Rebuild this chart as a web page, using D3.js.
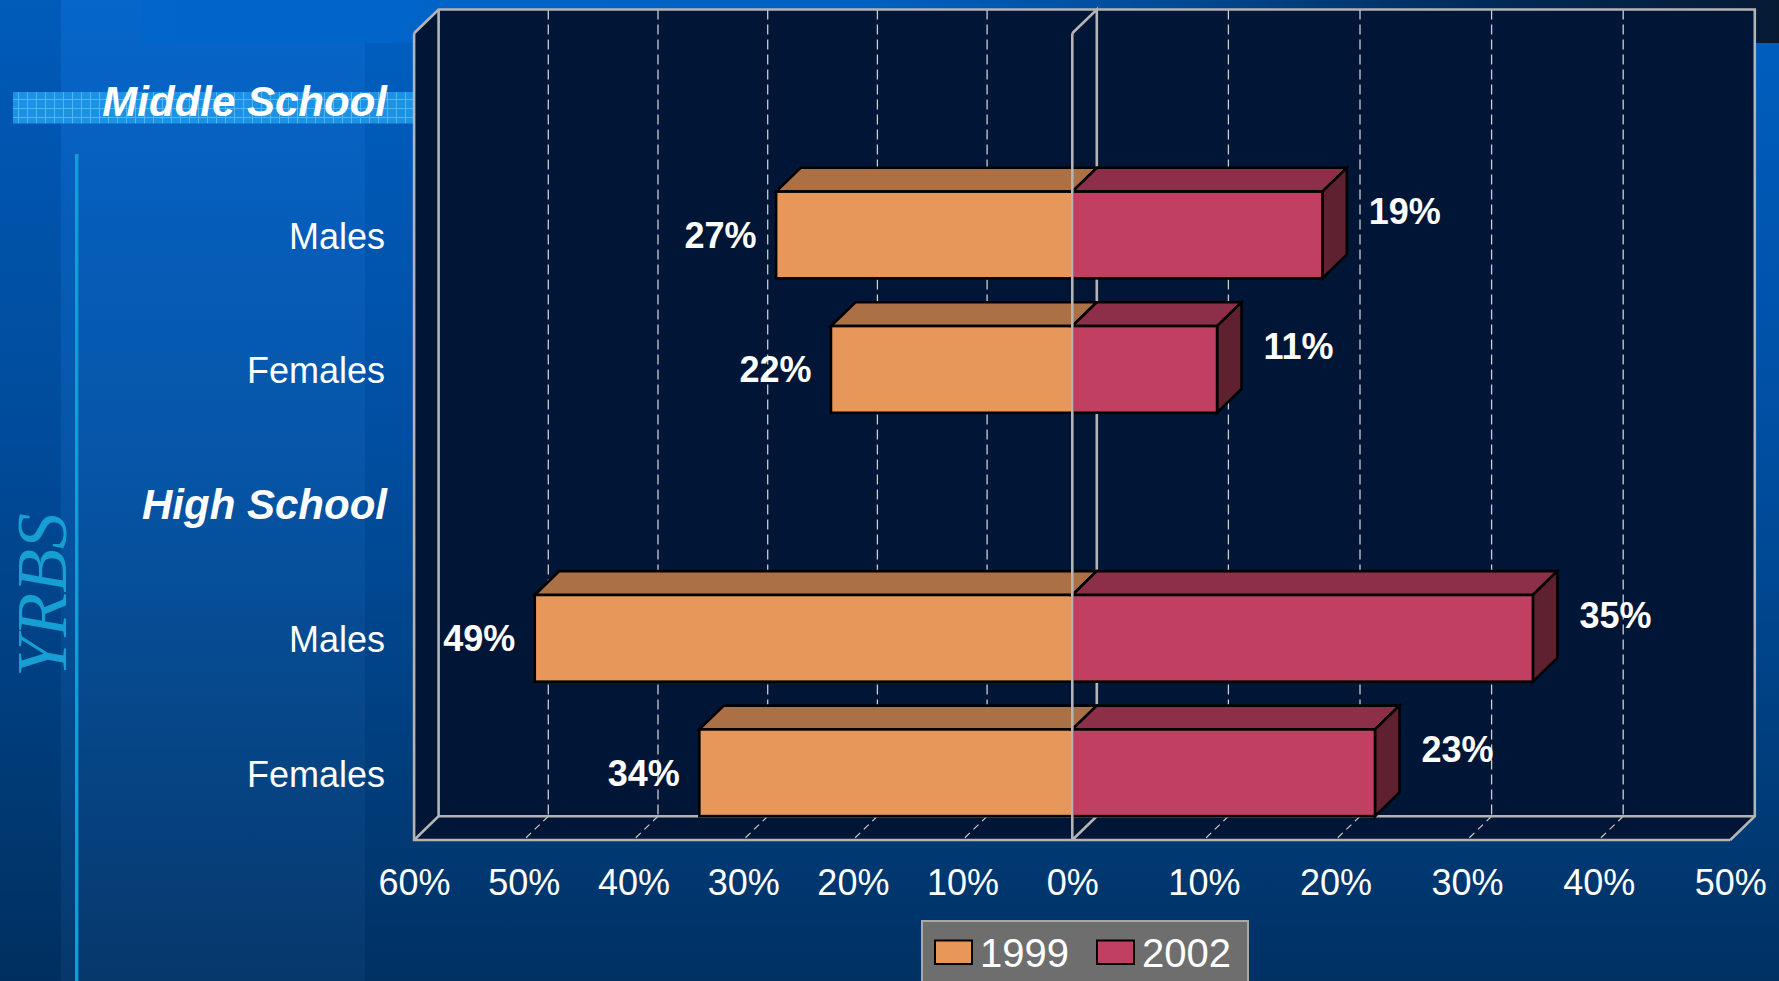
<!DOCTYPE html>
<html>
<head>
<meta charset="utf-8">
<script src="https://cdn.jsdelivr.net/npm/d3@7"></script>
<style>
  html, body { margin: 0; padding: 0; background: #003468; overflow: hidden; }
  svg { display: block; }
  text { font-family: "Liberation Sans", Arial, sans-serif; }
</style>
</head>
<body>
<svg id="chart" width="1779" height="981"></svg>
<script>
// ---------------- data ----------------
const slotKeys   = ["ms", "msM", "msF", "hs", "hsM", "hsF"];
const slotLabels = ["Middle School", "Males", "Females", "High School", "Males", "Females"];
const slotIsHeader = [true, false, false, true, false, false];
const values1999 = [null, 27, 22, null, 49, 34];
const values2002 = [null, 19, 11, null, 35, 23];
const seriesNames = ["1999", "2002"];
const leftTicks  = [60, 50, 40, 30, 20, 10, 0];
const rightTicks = [10, 20, 30, 40, 50];
const sideTitle = "YRBS";

// ---------------- layout ----------------
const W = 1779, H = 981;
const svg = d3.select("#chart");
const DX = 24.5, DY = 23.8;          // 3-D depth offset
const X0 = 1072.3;                   // front 0% position
const TOP = 33.3, FLOOR = 840;       // front plane vertical extent

const xLeft  = d3.scaleLinear().domain([0, 60]).range([X0, X0 - 6 * 109.7]);
const xRight = d3.scaleLinear().domain([0, 50]).range([X0, X0 + 5 * 131.6]);
const y = d3.scaleBand().domain(slotKeys).range([TOP, FLOOR]).paddingInner(0.355).paddingOuter(0.1775);

const C = {
  navy: "#011636", wall: "#b4b4b4", grid: "#cccccc",
  f99: "#e8975a", t99: "#ab7043",
  f02: "#c14062", t02: "#8d2f48", s02: "#5f2030"
};

// ---------------- background ----------------
const defs = svg.append("defs");
const bg = defs.append("linearGradient").attr("id", "bg").attr("x1", 0).attr("y1", 0).attr("x2", 0).attr("y2", 1);
bg.append("stop").attr("offset", "0%").attr("stop-color", "#0063c9");
bg.append("stop").attr("offset", "45%").attr("stop-color", "#0052a8");
bg.append("stop").attr("offset", "75%").attr("stop-color", "#004285");
bg.append("stop").attr("offset", "100%").attr("stop-color", "#003468");
svg.append("rect").attr("width", W).attr("height", H).attr("fill", "url(#bg)");

// stripes
svg.append("rect").attr("x", 0).attr("y", 0).attr("width", 61).attr("height", H).attr("fill", "#000").attr("opacity", 0.08);
svg.append("rect").attr("x", 61).attr("y", 0).attr("width", 304).attr("height", H).attr("fill", "#fff").attr("opacity", 0.025);
svg.append("rect").attr("x", 365).attr("y", 0).attr("width", W - 365).attr("height", H).attr("fill", "#000").attr("opacity", 0.04);

// top strip
const tg = defs.append("linearGradient").attr("id", "topg").attr("x1", 0).attr("y1", 0).attr("x2", 1).attr("y2", 0);
tg.append("stop").attr("offset", "0%").attr("stop-color", "#0066cc");
tg.append("stop").attr("offset", "45%").attr("stop-color", "#0060c0");
tg.append("stop").attr("offset", "62%").attr("stop-color", "#004c98");
tg.append("stop").attr("offset", "82%").attr("stop-color", "#002a58");
tg.append("stop").attr("offset", "100%").attr("stop-color", "#061a34");
svg.append("rect").attr("x", 141).attr("y", 0).attr("width", W - 141).attr("height", 43).attr("fill", "url(#topg)");

// decorative vertical line
svg.append("line").attr("x1", 76.7).attr("x2", 76.7).attr("y1", 154).attr("y2", H)
  .attr("stroke", "#0aa0d8").attr("stroke-width", 3.4);

// YRBS side title
svg.append("text")
  .attr("transform", "translate(66,595) rotate(-90)")
  .attr("text-anchor", "middle")
  .style("font-family", "'Liberation Serif', 'Times New Roman', serif")
  .style("font-style", "italic")
  .style("font-size", "72px")
  .attr("fill", "#169fd2")
  .text(sideTitle);

// Middle School band with grid pattern
const pat = defs.append("pattern").attr("id", "gridpat").attr("patternUnits", "userSpaceOnUse")
  .attr("width", 9).attr("height", 9);
pat.append("rect").attr("width", 9).attr("height", 9).attr("fill", "#1b92e4");
pat.append("path").attr("d", "M0 0.5H9M0.5 0V9").attr("stroke", "#52b6f2").attr("stroke-width", 1);
svg.append("rect").attr("x", 13).attr("y", 92).attr("width", 402).attr("height", 31.5).attr("fill", "url(#gridpat)");

// ---------------- chart box ----------------
const xBackL = xLeft(60) + DX, xBackR = xRight(50) + DX;
const g = svg.append("g");
g.append("polygon")
  .attr("points", [[xLeft(60), TOP], [xBackL, TOP - DY], [xBackR, TOP - DY], [xBackR, FLOOR - DY],
                   [xRight(50), FLOOR], [xLeft(60), FLOOR]].map(p => p.join(",")).join(" "))
  .attr("fill", C.navy);

// back-wall dashed gridlines and floor diagonals
const gridL = leftTicks.filter(t => t !== 0 && t !== 60);
const gridR = rightTicks.filter(t => t !== 50);
const gridX = gridL.map(t => xLeft(t)).concat(gridR.map(t => xRight(t)));
g.selectAll("line.gv").data(gridX).join("line").attr("class", "gv")
  .attr("x1", d => d + DX).attr("x2", d => d + DX).attr("y1", TOP - DY).attr("y2", FLOOR - DY)
  .attr("stroke", C.grid).attr("stroke-width", 1.3).attr("stroke-dasharray", "10,5");
g.selectAll("line.gd").data(gridX).join("line").attr("class", "gd")
  .attr("x1", d => d + DX).attr("x2", d => d).attr("y1", FLOOR - DY).attr("y2", FLOOR)
  .attr("stroke", C.grid).attr("stroke-width", 1.2).attr("stroke-dasharray", "7,5");

// wall edges behind bars
const wallLine = (pts) => g.append("polyline").attr("points", pts.map(p => p.join(",")).join(" "))
  .attr("fill", "none").attr("stroke", C.wall).attr("stroke-width", 2.6).attr("stroke-linejoin", "miter");
wallLine([[xLeft(60), TOP], [xBackL, TOP - DY], [xBackR, TOP - DY], [xBackR, FLOOR - DY], [xRight(50), FLOOR]]);
wallLine([[xBackL, TOP - DY], [xBackL, FLOOR - DY], [xLeft(60), FLOOR]]);
wallLine([[xBackL, FLOOR - DY], [xBackR, FLOOR - DY]]);
wallLine([[X0, TOP], [X0 + DX, TOP - DY], [X0 + DX, FLOOR - DY], [X0, FLOOR]]);

// ---------------- bars ----------------
const rows = slotKeys.map((k, i) => ({ k, i, v1: values1999[i], v2: values2002[i] })).filter(r => r.v1 != null);
const bw = y.bandwidth();
const poly = (pts) => pts.map(p => p.join(",")).join(" ");
const barG = g.append("g").attr("stroke", "#000").attr("stroke-width", 2.6).attr("stroke-linejoin", "miter");

rows.forEach(r => {
  const t = y(r.k), b = t + bw;
  const xl = xLeft(r.v1), xr = xRight(r.v2);
  // 1999 (left)
  barG.append("polygon").attr("points", poly([[xl, t], [X0, t], [X0 + DX, t - DY], [xl + DX, t - DY]])).attr("fill", C.t99);
  barG.append("rect").attr("x", xl).attr("y", t).attr("width", X0 - xl).attr("height", bw).attr("fill", C.f99);
  // 2002 (right)
  barG.append("polygon").attr("points", poly([[X0, t], [xr, t], [xr + DX, t - DY], [X0 + DX, t - DY]])).attr("fill", C.t02);
  barG.append("polygon").attr("points", poly([[xr, t], [xr + DX, t - DY], [xr + DX, b - DY], [xr, b]])).attr("fill", C.s02);
  barG.append("rect").attr("x", X0).attr("y", t).attr("width", xr - X0).attr("height", bw).attr("fill", C.f02);
});

// front edges over the bars
wallLine([[xLeft(60), TOP], [xLeft(60), FLOOR], [xRight(50), FLOOR]]);
g.append("line").attr("x1", X0).attr("x2", X0).attr("y1", TOP).attr("y2", FLOOR)
  .attr("stroke", C.wall).attr("stroke-width", 2.6);

// ---------------- data labels ----------------
const lab = g.append("g").attr("fill", "#fff").style("font-weight", "bold").style("font-size", "36px");
rows.forEach(r => {
  const c = y(r.k) + bw / 2;
  lab.append("text").attr("x", xLeft(r.v1) - 19.5).attr("y", c + 13).attr("text-anchor", "end").text(r.v1 + "%");
  lab.append("text").attr("x", xRight(r.v2) + DX + 22).attr("y", c - DY + 13).attr("text-anchor", "start").text(r.v2 + "%");
});

// ---------------- category labels ----------------
const catG = svg.append("g").attr("fill", "#fff");
slotKeys.forEach((k, i) => {
  const c = y(k) + bw / 2;
  if (slotIsHeader[i]) {
    catG.append("text").attr("x", 387).attr("y", c + 15).attr("text-anchor", "end")
      .style("font-weight", "bold").style("font-style", "italic").style("font-size", "42px").text(slotLabels[i]);
  } else {
    catG.append("text").attr("x", 385).attr("y", c + 14).attr("text-anchor", "end")
      .style("font-size", "36px").text(slotLabels[i]);
  }
});

// ---------------- axes ----------------
const fmt = d => d + "%";
const axL = svg.append("g").attr("transform", "translate(0,895)")
  .call(d3.axisBottom(xLeft).tickValues(leftTicks).tickFormat(fmt).tickSize(0).tickPadding(0));
const axR = svg.append("g").attr("transform", "translate(0,895)")
  .call(d3.axisBottom(xRight).tickValues(rightTicks).tickFormat(fmt).tickSize(0).tickPadding(0));
[axL, axR].forEach(ax => {
  ax.select(".domain").remove();
  ax.selectAll("text").attr("y", 0).attr("dy", null).attr("fill", "#fff")
    .style("font-size", "36px").style("font-family", "'Liberation Sans', Arial, sans-serif");
});

// ---------------- legend ----------------
const leg = svg.append("g");
leg.append("rect").attr("x", 922).attr("y", 921).attr("width", 326).attr("height", 80)
  .attr("fill", "#6e6e6e").attr("stroke", "#a8a8a8").attr("stroke-width", 2);
const legCols = [C.f99, C.f02];
const legX = [935, 1097];
seriesNames.forEach((s, i) => {
  leg.append("rect").attr("x", legX[i]).attr("y", 940.5).attr("width", 37).attr("height", 23.5)
    .attr("fill", legCols[i]).attr("stroke", "#000").attr("stroke-width", 2);
  leg.append("text").attr("x", legX[i] + 45).attr("y", 967).attr("fill", "#fff")
    .style("font-size", "40px").text(s);
});
</script>
</body>
</html>
